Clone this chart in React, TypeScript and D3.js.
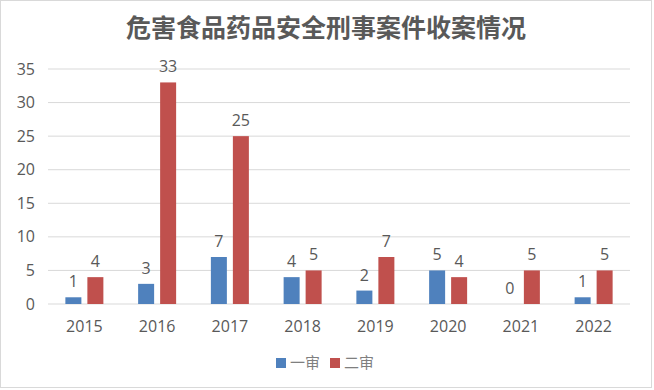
import * as d3 from 'd3'
import { useMemo } from 'react'

const years = ['2015', '2016', '2017', '2018', '2019', '2020', '2021', '2022']
const firstInstance = [1, 3, 7, 4, 2, 5, 0, 1]
const secondInstance = [4, 33, 25, 5, 7, 4, 5, 5]
const seriesNames = ['一审', '二审']
const yTicks = [0, 5, 10, 15, 20, 25, 30, 35]

const colors = ['#4F81BD', '#C0504D']
const textColor = '#595959'
const font = '"Open Sans", "Noto Sans CJK SC", sans-serif'

const App = () => {
    const width = 654
    const height = 390
    const margin = { top: 69, right: 24, bottom: 86, left: 48 }
    const innerW = width - margin.left - margin.right
    const innerH = height - margin.top - margin.bottom

    const x = useMemo(() => d3.scaleBand().domain(years).range([0, innerW]), [innerW])
    const y = useMemo(() => d3.scaleLinear().domain([0, 35]).range([innerH, 0]), [innerH])

    const barW = 16
    const gap = 6

    const series = [firstInstance, secondInstance]

    return (
        <svg width={width} height={height} style={{ position: 'absolute', left: 0, top: 0 }}>
            <rect x={0.5} y={0.5} width={width - 3} height={height - 3} fill="#fff" stroke="#d9d9d9" />
            <text x={326} y={37} textAnchor="middle" fontFamily='"Noto Sans CJK SC", sans-serif'
                fontWeight="bold" fontSize={25} fill={textColor}>危害食品药品安全刑事案件收案情况</text>
            <g transform={`translate(${margin.left},${margin.top})`}>
                {yTicks.map(t => (
                    <g key={t}>
                        <line x1={0} x2={innerW} y1={y(t)} y2={y(t)} stroke="#d9d9d9" strokeWidth={1} />
                        <text x={-13} y={y(t)} dy="0.35em" textAnchor="end" fontFamily={font}
                            fontSize={16} fill={textColor}>{t}</text>
                    </g>
                ))}
                {years.map((yr, i) => {
                    const c = x(yr)! + x.bandwidth() / 2
                    return (
                        <g key={yr}>
                            {series.map((s, k) => {
                                const bx = k === 0 ? c - gap / 2 - barW : c + gap / 2
                                const v = s[i]
                                return (
                                    <g key={k}>
                                        {v > 0 && <rect x={bx} width={barW} y={y(v)} height={innerH - y(v)} fill={colors[k]} />}
                                        <text x={bx + barW / 2} y={y(v) - 10} textAnchor="middle" fontFamily={font}
                                            fontSize={16} fill={textColor}>{v}</text>
                                    </g>
                                )
                            })}
                            <text x={c} y={innerH + 28} textAnchor="middle" fontFamily={font}
                                fontSize={16} fill={textColor}>{yr}</text>
                        </g>
                    )
                })}
            </g>
            <g transform="translate(276,358)">
                {seriesNames.map((n, k) => (
                    <g key={n} transform={`translate(${k * 54},0)`}>
                        <rect x={0} y={0} width={10} height={10} fill={colors[k]} />
                        <text x={14} y={5} dy="0.35em" fontFamily='"Noto Sans CJK SC", sans-serif'
                            fontSize={15} fill="#7f7f7f">{n}</text>
                    </g>
                ))}
            </g>
        </svg>
    )
}

export default App
